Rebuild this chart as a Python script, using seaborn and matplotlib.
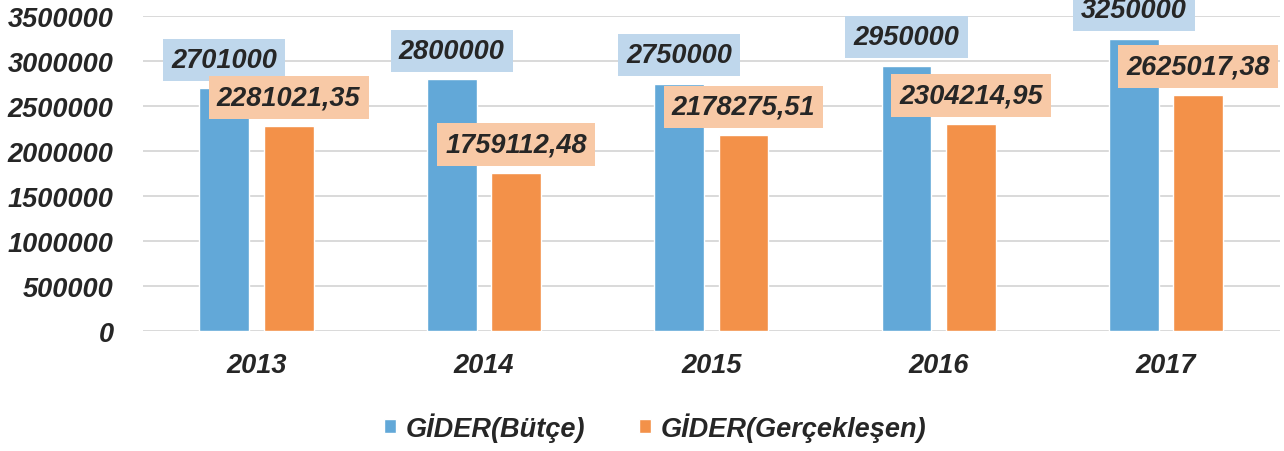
import pandas as pd
import matplotlib
matplotlib.use('Agg')
import matplotlib.pyplot as plt
import seaborn as sns

years = ['2013', '2014', '2015', '2016', '2017']
butce = [2701000, 2800000, 2750000, 2950000, 3250000]
gerceklesen = [2281021.35, 1759112.48, 2178275.51, 2304214.95, 2625017.38]
series_names = ['GİDER(Bütçe)', 'GİDER(Gerçekleşen)']
y_ticks = [0, 500000, 1000000, 1500000, 2000000, 2500000, 3000000, 3500000]

bar_colors = ['#62a8d8', '#f39149']
box_colors = ['#bfd7ec', '#f8c9a6']
FS = 19.5

df = pd.DataFrame({
    'year': years * 2,
    'value': butce + gerceklesen,
    'series': [series_names[0]] * len(years) + [series_names[1]] * len(years),
})

sns.set_style('white')
plt.rcParams['font.family'] = ['Liberation Sans', 'DejaVu Sans']

fig = plt.figure(figsize=(12.84, 4.52), dpi=100)
ax = fig.add_axes([0.1112, 0.266, 0.8855, 0.696])

sns.barplot(data=df, x='year', y='value', hue='series', palette=bar_colors,
            width=0.566, gap=0.225, saturation=1, ax=ax, zorder=2)

# value labels in boxes above each bar
label_sets = [[str(v) for v in butce],
              [f'{v:.2f}'.replace('.', ',') for v in gerceklesen]]
for i, cont in enumerate(ax.containers):
    ax.bar_label(cont, labels=label_sets[i], padding=11, fontsize=FS,
                 fontweight='bold', fontstyle='italic', zorder=5 + i,
                 bbox=dict(boxstyle='square,pad=0.3', fc=box_colors[i], ec='none'))

ax.set_ylim(0, 3500000)
ax.set_xlim(-0.5, 4.5)
ax.set_yticks(y_ticks)
ax.set_yticklabels([str(t) for t in y_ticks])
ax.yaxis.grid(True, color='#d9d9d9', linewidth=1.4, zorder=0)
ax.set_axisbelow(True)
for s in ax.spines.values():
    s.set_visible(False)
ax.tick_params(axis='both', length=0, labelsize=FS)
ax.tick_params(axis='y', pad=21)
ax.tick_params(axis='x', pad=15)
for lbl in ax.get_xticklabels() + ax.get_yticklabels():
    lbl.set_fontweight('bold')
    lbl.set_fontstyle('italic')
ax.set_xlabel('')
ax.set_ylabel('')

handles, labels = ax.get_legend_handles_labels()
ax.legend(handles, labels, loc='center', bbox_to_anchor=(0.51, 0.053),
          bbox_transform=fig.transFigure, ncol=2, frameon=False,
          handlelength=0.45, handleheight=0.45, handletextpad=0.35,
          columnspacing=2.0, prop={'size': FS, 'weight': 'bold', 'style': 'italic'})

fig.savefig('out.png', dpi=100)
